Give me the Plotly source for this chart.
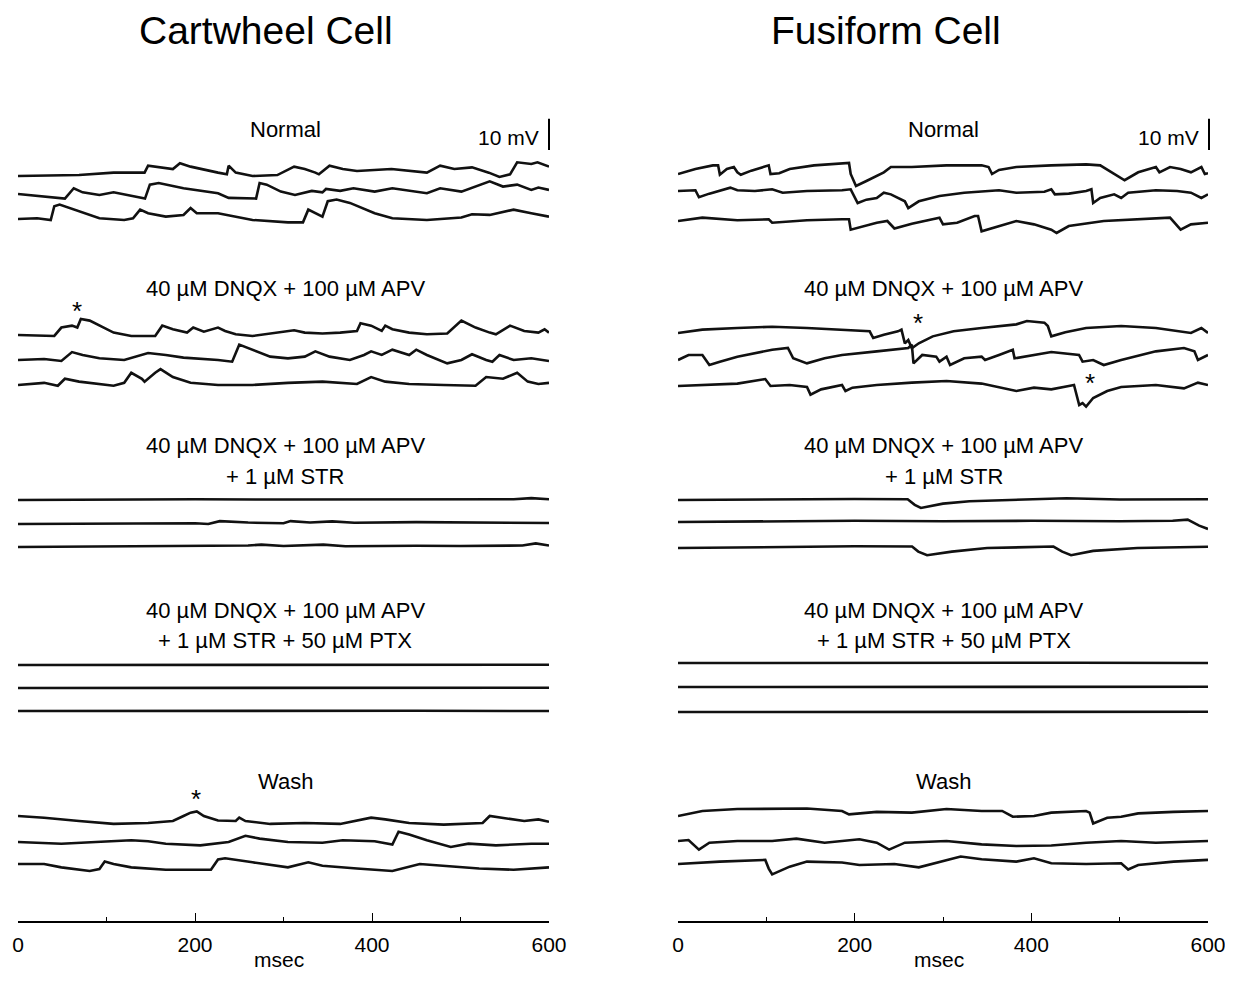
import plotly.graph_objects as go

# ---------------- DATA (time in ms, membrane potential deflection in mV) ----------------
# Cartwheel cell, Normal
CW_N1_T = [0, 30, 69, 108, 143, 147, 163, 175, 183, 195, 226, 236, 238, 246, 265, 293, 312, 324, 336, 340, 352, 367, 383, 422, 462, 477, 493, 513, 532, 544, 556, 564, 580, 587, 600]
CW_N1_V = [0, .3, .4, 1.4, 1.4, 4.3, 3.6, 2.9, 5.3, 3.9, 1.4, .7, 4.3, 1.4, 0, .4, 3.9, 2.9, 1.4, .7, 4.3, 2.9, 2.1, 2.9, 1.4, 4.3, 2.9, 3.6, 1.4, -.4, .7, 5.7, 5, 5.7, 3.9]
CW_N2_T = [0, 29.5, 53, 63, 73, 92, 108, 143.5, 149, 159, 187, 226, 238, 269, 273, 281, 297, 313, 332, 344, 348, 364, 379, 403, 423, 462, 477, 501, 533, 548, 564, 580, 588, 600]
CW_N2_V = [0, -1.1, -1.9, 2.4, .7, -.4, .7, -1.9, 3.9, 4.6, 2.4, .3, -1.6, -1.9, 4.6, 3.9, 1, -.4, 1.3, .7, 2.1, 1.3, 2.4, 1, 2.4, .3, 2.4, 1, 5.3, 3.1, 3.9, 1.7, 2.7, 1.7]
CW_N3_T = [0, 21.6, 37, 41, 47, 69, 92, 120, 130, 138, 147, 167, 187, 195, 202, 226, 265, 305, 322, 328, 336, 344, 350, 360, 375, 403, 423, 462, 501, 513, 533, 560, 580, 600]
CW_N3_V = [0, .3, -.4, 5.3, 6, 3.1, .3, -.4, .3, 3.9, 2.4, 1, 1.7, 4.6, 2.4, 2.4, -.4, -1.4, -1.4, 3.9, 2.4, 1, 7.4, 8.1, 6.7, 2.4, .3, -.4, .6, 2, 1.7, 3.9, 2.4, 1]

# Cartwheel cell, DNQX + APV
CW_D1_T = [0, 41, 49, 61, 67, 71, 81, 96, 108, 128, 155, 163, 175, 191, 198, 210, 226, 234, 246, 265, 285, 312, 324, 344, 364, 383, 387, 399, 411, 415, 423, 442, 462, 485, 501, 517, 533, 540, 556, 572, 588, 595, 600]
CW_D1_V = [0, -.4, 3.1, 3.9, 3.1, 6.7, 6, 3.1, 1, -.4, -.4, 3.9, 2.4, 1, 3.1, 1.4, 3.1, 1.7, .3, -.4, .6, 2, 1, .6, 1, 1.7, 4.9, 3.9, 1.7, 3.9, 2.4, 1, .3, .6, 6, 3.1, 1, .3, 3.9, 1.7, 1, 2.4, 1]
CW_D2_T = [0, 29.5, 49, 61, 73, 92, 120, 147, 167, 187, 226, 242, 250, 265, 285, 305, 324, 336, 352, 375, 391, 399, 411, 423, 442, 450, 462, 485, 501, 513, 529, 536, 544, 560, 580, 600]
CW_D2_V = [0, .4, -.4, 3.3, 2.1, .7, 0, 2.9, 2.1, 1, 0, -.7, 6.4, 4.3, 1.4, .7, 1.4, 3.6, 1.4, 0, 2.1, 3.6, 2.1, 4.3, 2.1, 4.3, 2.1, -1.4, 0, 2.4, 0, -.7, 2.1, 0, .7, -.4]
CW_D3_T = [0, 29.5, 45, 53, 69, 108, 120, 128, 140, 143, 155, 161, 175, 195, 226, 265, 305, 344, 383, 399, 415, 442, 481, 517, 529, 548, 564, 576, 588, 600]
CW_D3_V = [0, .9, -.3, 2.6, 1.4, -.3, .9, 5.1, 2.6, 1.4, 5.1, 6.6, 3.3, .9, 0, 0, .9, 1.4, .4, 3.3, 1.4, .4, 0, -.3, 3.3, 2.6, 5.1, 1.4, .4, .9]

# Cartwheel cell, + STR
CW_S1_T = [0, 100, 200, 300, 400, 500, 560, 580, 600]
CW_S1_V = [0, .2, .3, .2, .2, .1, .3, .8, .3]
CW_S2_T = [0, 100, 200, 215, 228, 260, 300, 308, 330, 355, 380, 450, 500, 550, 600]
CW_S2_V = [0, .2, .3, 0, 1.2, .6, .3, 1.2, .6, 1.1, .5, .8, .6, .7, .4]
CW_S3_T = [0, 100, 200, 260, 275, 300, 345, 370, 450, 500, 570, 585, 600]
CW_S3_V = [0, .2, .3, .6, 1, .4, 1, .3, .5, .4, .6, 1.5, .6]

# Cartwheel cell, + PTX
CW_P1_T = [0, 150, 300, 450, 600]
CW_P1_V = [0, .1, .2, .1, .1]
CW_P2_T = [0, 150, 300, 450, 600]
CW_P2_V = [0, .1, .1, .2, .1]
CW_P3_T = [0, 150, 300, 450, 600]
CW_P3_V = [0, .1, .2, .1, 0]

# Cartwheel cell, Wash
CW_W1_T = [0, 29.5, 69, 108, 147, 175, 187, 195, 202, 210, 226, 246, 250, 257, 285, 324, 364, 399, 415, 442, 481, 525, 533, 548, 572, 588, 600]
CW_W1_V = [0, -.7, -2.1, -3.3, -2.9, -2.1, 0, 1.4, 1.9, 0, -1.9, -2.1, -.7, -2.1, -3.3, -2.9, -3.3, -.7, -1.4, -2.9, -3.6, -2.9, 0, -.7, -2.1, -1.4, -2.4]
CW_W2_T = [0, 49, 88, 128, 147, 167, 206, 238, 257, 273, 305, 344, 367, 403, 423, 430, 442, 462, 489, 509, 540, 580, 600]
CW_W2_V = [0, -.7, 0, .7, .3, -.7, -1.4, 0, 2.6, 1.4, 0, -.3, .7, .3, -1.1, 4.3, 3.1, .7, -2.1, -.7, -1.4, -.7, -.7]
CW_W3_T = [0, 29.5, 49, 81, 92, 98, 108, 128, 167, 218, 226, 234, 265, 305, 328, 344, 383, 423, 454, 481, 521, 560, 600]
CW_W3_V = [0, 0, -1.4, -2.9, -2.1, 1, 0, -1.4, -2.4, -2.4, 1.9, 2.4, .7, -1.4, .7, -.7, -1.9, -2.9, 0, -.7, -1.9, -2.4, -1.4]

# Fusiform cell, Normal
FU_N1_T = [0, 19.7, 39.5, 45.4, 47.4, 55.3, 63.2, 67.2, 71.1, 83, 102.7, 104.7, 114.6, 126.4, 154, 185.7, 193.6, 195.5, 201.5, 213.3, 233, 241, 264.7, 304, 343.7, 351.6, 355.5, 363.4, 383, 422.6, 462, 478, 493.8, 505.6, 521, 541, 545, 557, 569, 580.7, 592.5, 596.4, 600]
FU_N1_V = [0, 2.1, 3.6, 3.6, -.3, 2.1, 2.9, .7, -.3, 1.4, 3.6, 0, .3, 2.1, 3.6, 4.3, 4.6, 0, -5, -2.9, .7, 2.9, 2.9, 3.6, 3.6, 2.9, 0, 1.7, 2.9, 3.6, 4, 3.6, 0, -2.6, .7, 2.9, .7, 2.9, 2.1, .7, 2.9, 0, .3]
FU_N2_T = [0, 19.7, 23.7, 35.5, 59.2, 67.2, 87, 106.6, 118.5, 146, 185.7, 195.5, 203.4, 213.3, 225, 233, 241, 256.8, 260.7, 272.6, 296, 324, 363.4, 383, 414.8, 422.6, 426.6, 442.4, 462, 468, 470, 478, 493.8, 501.7, 509.6, 541, 565, 580.7, 592.5, 600]
FU_N2_V = [0, .3, -2.6, -1.1, 1.4, .3, 0, .7, -.7, 0, .3, .7, -5, -3.6, -2.9, -.7, -1.4, -4.3, -7.1, -4.3, -2.1, -.7, .3, -.7, -.3, .7, -1.4, -1.1, 0, .7, -5, -2.9, -1.4, -2.9, -.7, .3, 0, -.7, -2.9, -1.4]
FU_N3_T = [0, 27.6, 67.2, 102.7, 106.6, 146, 185.7, 193.6, 195.5, 209.4, 225, 237, 245, 264.7, 296, 300, 316, 335.8, 339.7, 343.7, 363.4, 383, 403, 422.6, 428.6, 442.4, 482, 521, 557, 569, 580.7, 600]
FU_N3_V = [0, 1.4, .3, .7, -.7, .3, .7, .7, -3.6, -2.1, -.7, 0, -3.1, -1.1, 1.4, -1.4, -.7, 2.1, 2.1, -4.3, -2.1, 0, -1.4, -3.6, -5, -2.1, 0, .7, 1.4, -3.6, -1.4, -.7]

# Fusiform cell, DNQX + APV
FU_D1_T = [0, 27.6, 67.2, 106.6, 146, 185.7, 217, 221, 233, 249, 253, 256.8, 260.7, 264.7, 272.6, 288.4, 312, 343.7, 383, 395, 414.8, 418.7, 422.6, 438.5, 462, 501.7, 541, 580.7, 592.5, 600]
FU_D1_V = [0, 1.4, 2.1, 2.6, 2.1, 1.4, .7, -2.1, -.7, .7, 1.4, -4.3, -2.9, -6.4, -4.3, -1.4, .7, 2.1, 3.6, 5, 4.3, 2.9, -1.4, .3, 2.1, 2.9, 2.1, 0, 2.1, 0]
FU_D2_T = [0, 11.9, 27.6, 35.5, 47.4, 67.2, 106.6, 124.4, 130.4, 146, 166, 185.7, 225, 260.7, 264.7, 266.6, 276.5, 292.3, 296, 304, 308, 324, 343.7, 347.6, 363.4, 379, 381, 403, 422.6, 454, 458, 470, 482, 501.7, 541, 572.8, 584.6, 588.6, 600]
FU_D2_V = [0, 2.1, 2.1, -2.1, -.7, 1.4, 4.3, 5, .7, -1.4, .7, 2.1, 3.6, 5, 6.4, -1.4, 2.1, 1.4, -.7, 1.4, -2.1, .7, 1.4, 0, 2.1, 4.3, .7, 2.1, 3.3, 2.1, -.7, 0, -2.1, 0, 3.6, 5, 3.6, 0, 2.1]
FU_D3_T = [0, 27.6, 67.2, 98.8, 104.7, 126.4, 146, 150, 162, 185.7, 189.6, 197.5, 225, 264.7, 304, 343.7, 363.4, 383, 403, 422.6, 442.4, 448.3, 454.2, 458, 462, 470, 485.9, 501.7, 541, 572.8, 588.6, 600]
FU_D3_V = [0, .4, 1, 2.9, 0, .4, -.4, -3.6, -1.4, .4, -2.1, -.7, .4, 1.4, 2.1, 1, -.4, -2.1, -.7, -1.4, 0, .4, -7.9, -7.1, -8.6, -5, -2.1, -.4, .4, -1, 1.4, .4]

# Fusiform cell, + STR
FU_S1_T = [0, 100, 200, 260, 268, 275, 300, 330, 400, 440, 500, 600]
FU_S1_V = [0, .3, .4, .3, -2, -3.3, -1.5, -.5, .4, .7, .2, .3]
FU_S2_T = [0, 100, 200, 300, 400, 500, 560, 577, 590, 600]
FU_S2_V = [0, .3, .5, .3, .5, .3, .5, 1, -1.5, -2.9]
FU_S3_T = [0, 100, 200, 265, 272, 282, 310, 350, 400, 425, 435, 445, 470, 520, 600]
FU_S3_V = [0, .5, .7, .6, -1.5, -3, -1.5, 0, .6, .6, -1.5, -3, -1.2, 0, .5]

# Fusiform cell, + PTX
FU_P1_T = [0, 150, 300, 450, 600]
FU_P1_V = [0, .1, .1, .1, 0]
FU_P2_T = [0, 150, 300, 450, 600]
FU_P2_V = [0, .1, .2, .1, .1]
FU_P3_T = [0, 150, 300, 450, 600]
FU_P3_V = [0, .1, .1, .2, .1]

# Fusiform cell, Wash
FU_W1_T = [0, 27.6, 67.2, 106.6, 146, 185.7, 193.6, 225, 264.7, 304, 343.7, 367, 379, 403, 422.6, 462, 466, 470, 485.9, 501.7, 521, 561, 600]
FU_W1_V = [0, 2.1, 2.9, 2.9, 3.1, 2.1, .7, 1.7, 1.4, 2.9, 2.1, 2.1, -.3, 0, 1.4, 2.1, 1.4, -3.1, -.7, -.3, 1.1, 1.7, 2.1]
FU_W2_T = [0, 11.9, 23.7, 35.5, 67.2, 106.6, 134, 166, 205.4, 225, 239, 256.8, 304, 343.7, 383, 422.6, 462, 501.7, 541, 600]
FU_W2_V = [0, .4, -3.6, -.7, 0, 0, 1, -.7, .7, -.7, -3.6, -.7, 0, -1.4, -2.1, -1.9, -.7, 0, -.7, 0]
FU_W3_T = [0, 47.4, 98.8, 102.7, 106.6, 126.4, 146, 185.7, 205.4, 245, 272.6, 304, 320, 343.7, 383, 403, 422.6, 462, 501.7, 509.6, 521, 561, 600]
FU_W3_V = [0, 1, 1.7, -1.9, -4.3, -1.1, 1, .6, -.4, 0, -1.4, 1.7, 3.1, 2, 1, 2.4, .3, 0, .3, -2.3, -.4, 1, 1.7]

CELL_TITLES = ["Cartwheel Cell", "Fusiform Cell"]
CONDITION_LABELS = [
    ["Normal"],
    ["40 µM DNQX + 100 µM APV"],
    ["40 µM DNQX + 100 µM APV", "+ 1 µM STR"],
    ["40 µM DNQX + 100 µM APV", "+ 1 µM STR + 50 µM PTX"],
    ["Wash"],
]
TICK_VALUES = [0, 200, 400, 600]
X_LABEL = "msec"
SCALE_LABEL = "10 mV"
SCALE_MV = 10

# ---------------- LAYOUT ----------------
PAGE_W, PAGE_H = 1233, 985
OFF = 8                      # default page margin of the html body
W, H = PAGE_W - OFF, PAGE_H - 2 * OFF - 4
AXIS_Y = 921                 # pixel row (page coords) of the time axis
PX_PER_MV = 2.4
FONT = "Liberation Sans, Arial, sans-serif"

cw_traces = [
    (CW_N1_T, CW_N1_V, 176), (CW_N2_T, CW_N2_V, 194), (CW_N3_T, CW_N3_V, 219),
    (CW_D1_T, CW_D1_V, 335), (CW_D2_T, CW_D2_V, 360), (CW_D3_T, CW_D3_V, 385),
    (CW_S1_T, CW_S1_V, 500), (CW_S2_T, CW_S2_V, 524), (CW_S3_T, CW_S3_V, 547),
    (CW_P1_T, CW_P1_V, 665), (CW_P2_T, CW_P2_V, 688), (CW_P3_T, CW_P3_V, 711),
    (CW_W1_T, CW_W1_V, 816), (CW_W2_T, CW_W2_V, 842), (CW_W3_T, CW_W3_V, 864),
]
fu_traces = [
    (FU_N1_T, FU_N1_V, 174), (FU_N2_T, FU_N2_V, 191), (FU_N3_T, FU_N3_V, 221),
    (FU_D1_T, FU_D1_V, 333), (FU_D2_T, FU_D2_V, 360), (FU_D3_T, FU_D3_V, 386),
    (FU_S1_T, FU_S1_V, 500), (FU_S2_T, FU_S2_V, 522), (FU_S3_T, FU_S3_V, 548),
    (FU_P1_T, FU_P1_V, 663), (FU_P2_T, FU_P2_V, 687), (FU_P3_T, FU_P3_V, 712),
    (FU_W1_T, FU_W1_V, 816), (FU_W2_T, FU_W2_V, 841), (FU_W3_T, FU_W3_V, 864),
]

fig = go.Figure()
for traces, xa in [(cw_traces, "x"), (fu_traces, "x2")]:
    for t, v, base in traces:
        fig.add_trace(go.Scatter(
            x=t, y=[-(base - OFF) + val * PX_PER_MV for val in v],
            mode="lines", xaxis=xa, yaxis="y",
            line=dict(color="#111111", width=2.6), hoverinfo="skip", showlegend=False))

ax_common = dict(range=[0, 600], showgrid=False, zeroline=False, showline=True, automargin=False,
                 linecolor="black", linewidth=1.5, ticks="inside", ticklen=8, tickwidth=1.3,
                 tickcolor="black", tickvals=TICK_VALUES, ticklabelstandoff=4,
                 ticklabeloverflow="allow",
                 minor=dict(ticks="inside", ticklen=4, tickcolor="black", dtick=100, tick0=0),
                 tickfont=dict(family=FONT, size=21, color="black"),
                 fixedrange=True)
fig.update_layout(
    width=W, height=H, margin=dict(l=0, r=0, t=0, b=0, autoexpand=False),
    paper_bgcolor="white", plot_bgcolor="white",
    xaxis=dict(domain=[(18 - OFF) / W, (549 - OFF) / W], anchor="y", **ax_common),
    xaxis2=dict(domain=[(678 - OFF) / W, (1208 - OFF) / W], anchor="y", **ax_common),
    yaxis=dict(domain=[(H - (AXIS_Y - OFF)) / H, 1], range=[-(AXIS_Y - OFF), 0],
               visible=False, fixedrange=True, automargin=False),
)

def px(x, y):
    return (x - OFF) / W, 1 - (y - OFF) / H

ann = []
for cx, title in zip([266, 886], CELL_TITLES):
    x, y = px(cx, 31)
    ann.append(dict(x=x, y=y, text=title, font=dict(family=FONT, size=39, color="black")))

label_rows = [[130], [289], [446, 476], [610, 640], [781]]
for cx in [285, 944]:
    for lines, rows in zip(CONDITION_LABELS, label_rows):
        for text, ry in zip(lines, rows):
            x, y = px(cx, ry)
            ann.append(dict(x=x, y=y, text=text, font=dict(family=FONT, size=22, color="black")))

for cx in [279, 939]:
    x, _ = px(cx, 0)
    ann.append(dict(x=x, y=0, text=X_LABEL, yanchor="bottom",
                    font=dict(family=FONT, size=21, color="black")))

for sx, sy in [(77, 311), (196, 799), (918, 323), (1090, 383)]:
    x, y = px(sx, sy)
    ann.append(dict(x=x, y=y, text="*", font=dict(family=FONT, size=26, color="black")))

shapes = []
for bx in [549, 1209]:
    x, y = px(bx - 8, 137)
    ann.append(dict(x=x, y=y, text=SCALE_LABEL, xanchor="right",
                    font=dict(family=FONT, size=21, color="black")))
    x0, y0 = px(bx, 150)
    _, y1 = px(bx, 150 - SCALE_MV * PX_PER_MV * 1.3)
    shapes.append(dict(type="line", xref="paper", yref="paper", x0=x0, x1=x0, y0=y0, y1=y1,
                       line=dict(color="black", width=2)))

for a in ann:
    a.setdefault("xanchor", "center")
    a.setdefault("yanchor", "middle")
    a.update(xref="paper", yref="paper", showarrow=False)
fig.update_layout(annotations=ann, shapes=shapes)

fig.write_html("out.html")
